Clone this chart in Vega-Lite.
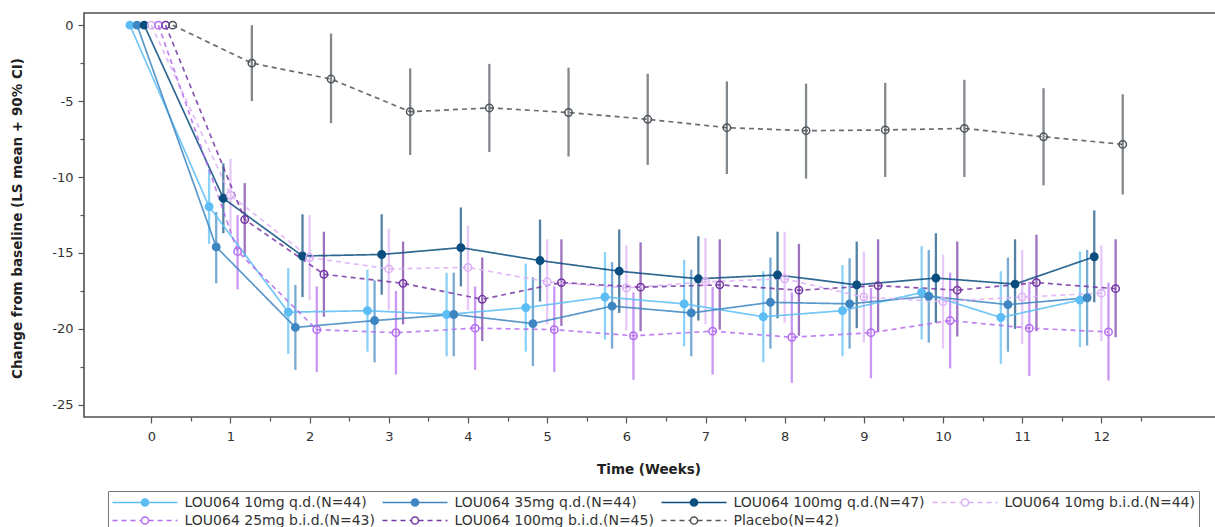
{
  "$schema": "https://vega.github.io/schema/vega-lite/v6.json",
  "width": 1140,
  "height": 404,
  "autosize": {"type": "none"},
  "padding": {"left": 84, "top": 13, "right": -9, "bottom": 110},
  "background": "white",
  "config": {
    "font": "DejaVu Sans",
    "view": {"stroke": "#505050", "strokeWidth": 1.6},
    "axis": {
      "domain": false,
      "grid": false,
      "tickColor": "#555555",
      "tickWidth": 1.2,
      "labelColor": "#333333",
      "labelFont": "DejaVu Sans",
      "labelFontSize": 13,
      "titleFont": "DejaVu Sans",
      "titleFontSize": 13.5,
      "titleFontWeight": "bold",
      "titleColor": "#222222"
    }
  },
  "data": {
    "values": [
      {"trt": "LOU064 10mg q.d.(N=44)", "week": 0, "t": -0.27, "mean": 0},
      {"trt": "LOU064 10mg q.d.(N=44)", "week": 1, "t": 0.73, "mean": -11.95, "lo": -14.4, "hi": -9.5},
      {"trt": "LOU064 10mg q.d.(N=44)", "week": 2, "t": 1.73, "mean": -18.9, "lo": -21.65, "hi": -16.0},
      {"trt": "LOU064 10mg q.d.(N=44)", "week": 3, "t": 2.73, "mean": -18.8, "lo": -21.5, "hi": -16.1},
      {"trt": "LOU064 10mg q.d.(N=44)", "week": 4, "t": 3.73, "mean": -19.05, "lo": -21.8, "hi": -16.3},
      {"trt": "LOU064 10mg q.d.(N=44)", "week": 5, "t": 4.73, "mean": -18.6, "lo": -21.5, "hi": -15.7},
      {"trt": "LOU064 10mg q.d.(N=44)", "week": 6, "t": 5.73, "mean": -17.9, "lo": -20.7, "hi": -14.95},
      {"trt": "LOU064 10mg q.d.(N=44)", "week": 7, "t": 6.73, "mean": -18.35, "lo": -21.15, "hi": -15.45},
      {"trt": "LOU064 10mg q.d.(N=44)", "week": 8, "t": 7.73, "mean": -19.2, "lo": -22.2, "hi": -16.2},
      {"trt": "LOU064 10mg q.d.(N=44)", "week": 9, "t": 8.73, "mean": -18.8, "lo": -21.8, "hi": -15.8},
      {"trt": "LOU064 10mg q.d.(N=44)", "week": 10, "t": 9.73, "mean": -17.6, "lo": -20.7, "hi": -14.55},
      {"trt": "LOU064 10mg q.d.(N=44)", "week": 11, "t": 10.73, "mean": -19.25, "lo": -22.3, "hi": -16.2},
      {"trt": "LOU064 10mg q.d.(N=44)", "week": 12, "t": 11.73, "mean": -18.1, "lo": -21.2, "hi": -14.9},

      {"trt": "LOU064 35mg q.d.(N=44)", "week": 0, "t": -0.18, "mean": 0},
      {"trt": "LOU064 35mg q.d.(N=44)", "week": 1, "t": 0.82, "mean": -14.6, "lo": -17.0, "hi": -12.3},
      {"trt": "LOU064 35mg q.d.(N=44)", "week": 2, "t": 1.82, "mean": -19.9, "lo": -22.7, "hi": -17.1},
      {"trt": "LOU064 35mg q.d.(N=44)", "week": 3, "t": 2.82, "mean": -19.45, "lo": -22.2, "hi": -16.8},
      {"trt": "LOU064 35mg q.d.(N=44)", "week": 4, "t": 3.82, "mean": -19.05, "lo": -21.8, "hi": -16.3},
      {"trt": "LOU064 35mg q.d.(N=44)", "week": 5, "t": 4.82, "mean": -19.65, "lo": -22.45, "hi": -16.6},
      {"trt": "LOU064 35mg q.d.(N=44)", "week": 6, "t": 5.82, "mean": -18.5, "lo": -21.3, "hi": -15.6},
      {"trt": "LOU064 35mg q.d.(N=44)", "week": 7, "t": 6.82, "mean": -18.95, "lo": -21.8, "hi": -16.1},
      {"trt": "LOU064 35mg q.d.(N=44)", "week": 8, "t": 7.82, "mean": -18.25, "lo": -21.3, "hi": -15.3},
      {"trt": "LOU064 35mg q.d.(N=44)", "week": 9, "t": 8.82, "mean": -18.35, "lo": -21.3, "hi": -15.35},
      {"trt": "LOU064 35mg q.d.(N=44)", "week": 10, "t": 9.82, "mean": -17.85, "lo": -20.9, "hi": -14.8},
      {"trt": "LOU064 35mg q.d.(N=44)", "week": 11, "t": 10.82, "mean": -18.4, "lo": -21.5, "hi": -15.3},
      {"trt": "LOU064 35mg q.d.(N=44)", "week": 12, "t": 11.82, "mean": -17.95, "lo": -21.1, "hi": -14.8},

      {"trt": "LOU064 100mg q.d.(N=47)", "week": 0, "t": -0.09, "mean": 0},
      {"trt": "LOU064 100mg q.d.(N=47)", "week": 1, "t": 0.91, "mean": -11.4, "lo": -13.7, "hi": -9.1},
      {"trt": "LOU064 100mg q.d.(N=47)", "week": 2, "t": 1.91, "mean": -15.2, "lo": -17.9, "hi": -12.45},
      {"trt": "LOU064 100mg q.d.(N=47)", "week": 3, "t": 2.91, "mean": -15.1, "lo": -17.75, "hi": -12.45},
      {"trt": "LOU064 100mg q.d.(N=47)", "week": 4, "t": 3.91, "mean": -14.65, "lo": -17.2, "hi": -12.0},
      {"trt": "LOU064 100mg q.d.(N=47)", "week": 5, "t": 4.91, "mean": -15.5, "lo": -18.2, "hi": -12.8},
      {"trt": "LOU064 100mg q.d.(N=47)", "week": 6, "t": 5.91, "mean": -16.2, "lo": -18.95, "hi": -13.45},
      {"trt": "LOU064 100mg q.d.(N=47)", "week": 7, "t": 6.91, "mean": -16.7, "lo": -19.45, "hi": -13.9},
      {"trt": "LOU064 100mg q.d.(N=47)", "week": 8, "t": 7.91, "mean": -16.45, "lo": -19.3, "hi": -13.6},
      {"trt": "LOU064 100mg q.d.(N=47)", "week": 9, "t": 8.91, "mean": -17.1, "lo": -19.95, "hi": -14.25},
      {"trt": "LOU064 100mg q.d.(N=47)", "week": 10, "t": 9.91, "mean": -16.65, "lo": -19.6, "hi": -13.7},
      {"trt": "LOU064 100mg q.d.(N=47)", "week": 11, "t": 10.91, "mean": -17.05, "lo": -20.0, "hi": -14.1},
      {"trt": "LOU064 100mg q.d.(N=47)", "week": 12, "t": 11.91, "mean": -15.25, "lo": -18.25, "hi": -12.2},

      {"trt": "LOU064 10mg b.i.d.(N=44)", "week": 0, "t": 0.0, "mean": 0},
      {"trt": "LOU064 10mg b.i.d.(N=44)", "week": 1, "t": 1.0, "mean": -11.2, "lo": -13.6, "hi": -8.8},
      {"trt": "LOU064 10mg b.i.d.(N=44)", "week": 2, "t": 2.0, "mean": -15.3, "lo": -18.1, "hi": -12.5},
      {"trt": "LOU064 10mg b.i.d.(N=44)", "week": 3, "t": 3.0, "mean": -16.05, "lo": -18.75, "hi": -13.4},
      {"trt": "LOU064 10mg b.i.d.(N=44)", "week": 4, "t": 4.0, "mean": -15.95, "lo": -18.75, "hi": -13.2},
      {"trt": "LOU064 10mg b.i.d.(N=44)", "week": 5, "t": 5.0, "mean": -16.9, "lo": -19.7, "hi": -14.1},
      {"trt": "LOU064 10mg b.i.d.(N=44)", "week": 6, "t": 6.0, "mean": -17.3, "lo": -20.1, "hi": -14.5},
      {"trt": "LOU064 10mg b.i.d.(N=44)", "week": 7, "t": 7.0, "mean": -16.9, "lo": -19.7, "hi": -14.0},
      {"trt": "LOU064 10mg b.i.d.(N=44)", "week": 8, "t": 8.0, "mean": -16.7, "lo": -19.6, "hi": -13.6},
      {"trt": "LOU064 10mg b.i.d.(N=44)", "week": 9, "t": 9.0, "mean": -17.9, "lo": -20.9, "hi": -14.9},
      {"trt": "LOU064 10mg b.i.d.(N=44)", "week": 10, "t": 10.0, "mean": -18.2, "lo": -21.3, "hi": -15.1},
      {"trt": "LOU064 10mg b.i.d.(N=44)", "week": 11, "t": 11.0, "mean": -17.9, "lo": -21.0, "hi": -14.8},
      {"trt": "LOU064 10mg b.i.d.(N=44)", "week": 12, "t": 12.0, "mean": -17.65, "lo": -20.8, "hi": -14.5},

      {"trt": "LOU064 25mg b.i.d.(N=43)", "week": 0, "t": 0.09, "mean": 0},
      {"trt": "LOU064 25mg b.i.d.(N=43)", "week": 1, "t": 1.09, "mean": -14.9, "lo": -17.4, "hi": -12.5},
      {"trt": "LOU064 25mg b.i.d.(N=43)", "week": 2, "t": 2.09, "mean": -20.05, "lo": -22.85, "hi": -17.2},
      {"trt": "LOU064 25mg b.i.d.(N=43)", "week": 3, "t": 3.09, "mean": -20.25, "lo": -23.0, "hi": -17.5},
      {"trt": "LOU064 25mg b.i.d.(N=43)", "week": 4, "t": 4.09, "mean": -19.95, "lo": -22.7, "hi": -17.2},
      {"trt": "LOU064 25mg b.i.d.(N=43)", "week": 5, "t": 5.09, "mean": -20.05, "lo": -22.85, "hi": -17.2},
      {"trt": "LOU064 25mg b.i.d.(N=43)", "week": 6, "t": 6.09, "mean": -20.45, "lo": -23.35, "hi": -17.6},
      {"trt": "LOU064 25mg b.i.d.(N=43)", "week": 7, "t": 7.09, "mean": -20.15, "lo": -23.0, "hi": -17.25},
      {"trt": "LOU064 25mg b.i.d.(N=43)", "week": 8, "t": 8.09, "mean": -20.55, "lo": -23.55, "hi": -17.6},
      {"trt": "LOU064 25mg b.i.d.(N=43)", "week": 9, "t": 9.09, "mean": -20.25, "lo": -23.25, "hi": -17.3},
      {"trt": "LOU064 25mg b.i.d.(N=43)", "week": 10, "t": 10.09, "mean": -19.45, "lo": -22.6, "hi": -16.3},
      {"trt": "LOU064 25mg b.i.d.(N=43)", "week": 11, "t": 11.09, "mean": -19.95, "lo": -23.1, "hi": -16.9},
      {"trt": "LOU064 25mg b.i.d.(N=43)", "week": 12, "t": 12.09, "mean": -20.2, "lo": -23.4, "hi": -16.95},

      {"trt": "LOU064 100mg b.i.d.(N=45)", "week": 0, "t": 0.18, "mean": 0},
      {"trt": "LOU064 100mg b.i.d.(N=45)", "week": 1, "t": 1.18, "mean": -12.8, "lo": -15.25, "hi": -10.4},
      {"trt": "LOU064 100mg b.i.d.(N=45)", "week": 2, "t": 2.18, "mean": -16.4, "lo": -19.2, "hi": -13.6},
      {"trt": "LOU064 100mg b.i.d.(N=45)", "week": 3, "t": 3.18, "mean": -17.0, "lo": -19.7, "hi": -14.25},
      {"trt": "LOU064 100mg b.i.d.(N=45)", "week": 4, "t": 4.18, "mean": -18.05, "lo": -20.8, "hi": -15.3},
      {"trt": "LOU064 100mg b.i.d.(N=45)", "week": 5, "t": 5.18, "mean": -16.95, "lo": -19.8, "hi": -14.1},
      {"trt": "LOU064 100mg b.i.d.(N=45)", "week": 6, "t": 6.18, "mean": -17.25, "lo": -20.15, "hi": -14.3},
      {"trt": "LOU064 100mg b.i.d.(N=45)", "week": 7, "t": 7.18, "mean": -17.1, "lo": -20.05, "hi": -14.1},
      {"trt": "LOU064 100mg b.i.d.(N=45)", "week": 8, "t": 8.18, "mean": -17.45, "lo": -20.45, "hi": -14.4},
      {"trt": "LOU064 100mg b.i.d.(N=45)", "week": 9, "t": 9.18, "mean": -17.15, "lo": -20.2, "hi": -14.1},
      {"trt": "LOU064 100mg b.i.d.(N=45)", "week": 10, "t": 10.18, "mean": -17.45, "lo": -20.5, "hi": -14.25},
      {"trt": "LOU064 100mg b.i.d.(N=45)", "week": 11, "t": 11.18, "mean": -16.95, "lo": -20.15, "hi": -13.8},
      {"trt": "LOU064 100mg b.i.d.(N=45)", "week": 12, "t": 12.18, "mean": -17.35, "lo": -20.55, "hi": -14.1},

      {"trt": "Placebo(N=42)", "week": 0, "t": 0.27, "mean": 0},
      {"trt": "Placebo(N=42)", "week": 1, "t": 1.27, "mean": -2.5, "lo": -5.0, "hi": 0.0},
      {"trt": "Placebo(N=42)", "week": 2, "t": 2.27, "mean": -3.55, "lo": -6.45, "hi": -0.55},
      {"trt": "Placebo(N=42)", "week": 3, "t": 3.27, "mean": -5.7, "lo": -8.55, "hi": -2.85},
      {"trt": "Placebo(N=42)", "week": 4, "t": 4.27, "mean": -5.45, "lo": -8.35, "hi": -2.55},
      {"trt": "Placebo(N=42)", "week": 5, "t": 5.27, "mean": -5.75, "lo": -8.65, "hi": -2.8},
      {"trt": "Placebo(N=42)", "week": 6, "t": 6.27, "mean": -6.2, "lo": -9.2, "hi": -3.2},
      {"trt": "Placebo(N=42)", "week": 7, "t": 7.27, "mean": -6.75, "lo": -9.8, "hi": -3.7},
      {"trt": "Placebo(N=42)", "week": 8, "t": 8.27, "mean": -6.95, "lo": -10.1, "hi": -3.85},
      {"trt": "Placebo(N=42)", "week": 9, "t": 9.27, "mean": -6.9, "lo": -10.0, "hi": -3.8},
      {"trt": "Placebo(N=42)", "week": 10, "t": 10.27, "mean": -6.8, "lo": -10.0, "hi": -3.6},
      {"trt": "Placebo(N=42)", "week": 11, "t": 11.27, "mean": -7.35, "lo": -10.55, "hi": -4.15},
      {"trt": "Placebo(N=42)", "week": 12, "t": 12.27, "mean": -7.85, "lo": -11.15, "hi": -4.55}
    ]
  },
  "encoding": {
    "x": {
      "field": "t",
      "type": "quantitative",
      "scale": {"domain": [-0.85, 13.549], "nice": false, "zero": false},
      "axis": {
        "title": "Time (Weeks)",
        "values": [0, 0.5, 1, 1.5, 2, 2.5, 3, 3.5, 4, 4.5, 5, 5.5, 6, 6.5, 7, 7.5, 8, 8.5, 9, 9.5, 10, 10.5, 11, 11.5, 12, 12.5],
        "labelExpr": "datum.value % 1 === 0 ? '' + datum.value : ''",
        "tickSize": {"condition": {"test": "datum.value % 1 === 0", "value": 6}, "value": 4},
        "labelPadding": 7,
        "labelOverlap": false,
        "labelFlush": false,
        "titleX": 564.5,
        "titleAlign": "center",
        "titleY": 52,
        "titleBaseline": "middle"
      }
    },
    "y": {
      "field": "mean",
      "type": "quantitative",
      "scale": {"domain": [-25.8, 0.8], "nice": false, "zero": false},
      "axis": {
        "title": "Change from baseline (LS mean + 90% CI)",
        "values": [-25, -22.5, -20, -17.5, -15, -12.5, -10, -7.5, -5, -2.5, 0],
        "labelExpr": "datum.value % 5 === 0 ? '' + datum.value : ''",
        "tickSize": {"condition": {"test": "datum.value % 5 === 0", "value": 6}, "value": 4},
        "labelPadding": 5,
        "titleX": -67,
        "titleY": 205,
        "titleAngle": -90,
        "titleAlign": "center",
        "titleBaseline": "middle"
      }
    },
    "stroke": {
      "field": "trt",
      "type": "nominal",
      "scale": {
        "domain": ["LOU064 10mg q.d.(N=44)", "LOU064 35mg q.d.(N=44)", "LOU064 100mg q.d.(N=47)", "LOU064 10mg b.i.d.(N=44)", "LOU064 25mg b.i.d.(N=43)", "LOU064 100mg b.i.d.(N=45)", "Placebo(N=42)"],
        "range": ["#5bbdf4", "#3e86c2", "#0a4d7e", "#dcb0f6", "#b46cf0", "#7436a3", "#4f555c"]
      },
      "legend": {
        "title": null,
        "orient": "none",
        "legendX": 24,
        "legendY": 478,
        "columns": 4,
        "direction": "horizontal",
        "symbolType": "M-1,0L-0.11,0M0.11,0L1,0",
        "symbolSize": 4225,
        "symbolStrokeWidth": 1.5,
        "clipHeight": 16,
        "rowPadding": 2,
        "columnPadding": 6,
        "labelOffset": 6,
        "labelLimit": 400,
        "labelFont": "DejaVu Sans",
        "labelFontSize": 14,
        "labelColor": "#333333",
        "padding": 3.5,
        "strokeColor": "#777777"
      }
    }
  },
  "layer": [
    {
      "transform": [{"filter": "isValid(datum.lo)"}],
      "mark": {"type": "rule", "strokeWidth": 2.3, "strokeOpacity": 0.7},
      "encoding": {
        "y": {
          "field": "lo",
          "type": "quantitative",
          "scale": {"domain": [-25.8, 0.8], "nice": false, "zero": false},
          "axis": {
            "title": "Change from baseline (LS mean + 90% CI)",
            "values": [-25, -22.5, -20, -17.5, -15, -12.5, -10, -7.5, -5, -2.5, 0],
            "labelExpr": "datum.value % 5 === 0 ? '' + datum.value : ''",
            "tickSize": {"condition": {"test": "datum.value % 5 === 0", "value": 6}, "value": 4},
            "labelPadding": 5,
            "titleX": -67,
            "titleY": 205,
            "titleAngle": -90,
            "titleAlign": "center",
            "titleBaseline": "middle"
          }
        },
        "y2": {"field": "hi"}
      }
    },
    {
      "mark": {"type": "line", "strokeWidth": 1.7, "strokeOpacity": 0.85},
      "encoding": {
        "strokeDash": {
          "field": "trt",
          "type": "nominal",
          "scale": {
            "domain": ["LOU064 10mg q.d.(N=44)", "LOU064 35mg q.d.(N=44)", "LOU064 100mg q.d.(N=47)", "LOU064 10mg b.i.d.(N=44)", "LOU064 25mg b.i.d.(N=43)", "LOU064 100mg b.i.d.(N=45)", "Placebo(N=42)"],
            "range": [[1, 0], [1, 0], [1, 0], [5, 4], [5, 4], [5, 4], [5, 4]]
          },
          "legend": {
            "title": null,
            "orient": "none",
            "legendX": 24,
            "legendY": 478,
            "columns": 4,
            "direction": "horizontal",
            "symbolType": "M-1,0L-0.11,0M0.11,0L1,0",
            "symbolSize": 4225,
            "symbolStrokeWidth": 1.5,
            "clipHeight": 16,
            "rowPadding": 2,
            "columnPadding": 6,
            "labelOffset": 6,
            "labelLimit": 400,
            "labelFont": "DejaVu Sans",
            "labelFontSize": 14,
            "labelColor": "#333333",
            "padding": 3.5,
            "strokeColor": "#777777"
          }
        }
      }
    },
    {
      "mark": {"type": "point", "shape": "circle", "size": 55, "strokeWidth": 1.5, "opacity": 1},
      "encoding": {
        "fill": {
          "field": "trt",
          "type": "nominal",
          "sort": ["LOU064 10mg q.d.(N=44)", "LOU064 35mg q.d.(N=44)", "LOU064 100mg q.d.(N=47)", "LOU064 10mg b.i.d.(N=44)", "LOU064 25mg b.i.d.(N=43)", "LOU064 100mg b.i.d.(N=45)", "Placebo(N=42)"],
          "scale": {
            "range": ["#5bbdf4", "#3e86c2", "#0a4d7e", "transparent", "transparent", "transparent", "transparent"]
          },
          "legend": {
            "title": null,
            "orient": "none",
            "legendX": 24,
            "legendY": 478,
            "columns": 4,
            "direction": "horizontal",
            "symbolType": "M0.11,0C0.11,0.0608 0.0608,0.11 0,0.11C-0.0608,0.11 -0.11,0.0608 -0.11,0C-0.11,-0.0608 -0.0608,-0.11 0,-0.11C0.0608,-0.11 0.11,-0.0608 0.11,0Z",
            "symbolSize": 4225,
            "symbolStrokeWidth": 1.5,
            "symbolStrokeColor": {"expr": "scale('stroke', datum.value)"},
            "symbolOpacity": 1,
            "clipHeight": 16,
            "rowPadding": 2,
            "columnPadding": 6,
            "labelOffset": 6,
            "labelLimit": 400,
            "labelFont": "DejaVu Sans",
            "labelFontSize": 14,
            "labelOpacity": 0,
            "padding": 3.5
          }
        }
      }
    }
  ]
}
